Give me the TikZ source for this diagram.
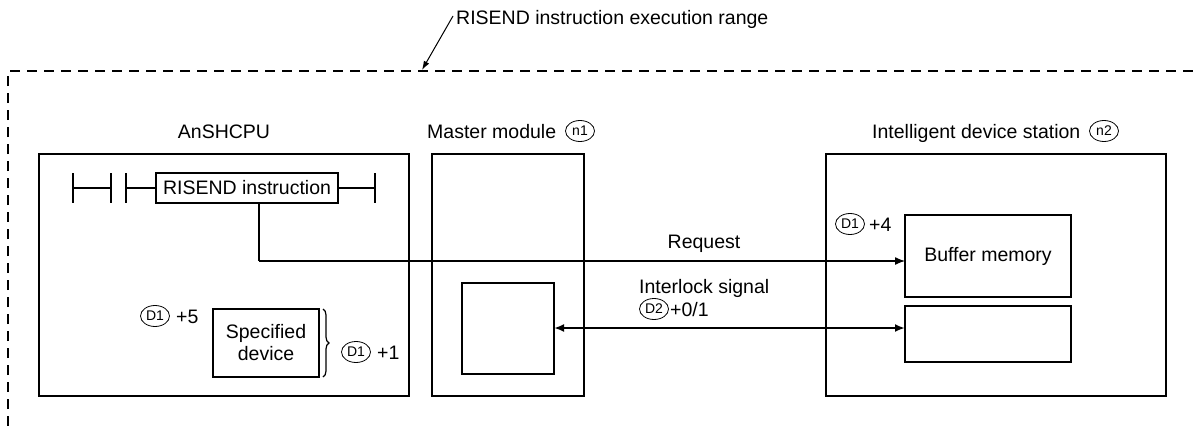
\documentclass[tikz,border=0pt]{standalone}
\usepackage{fontspec}
\setmainfont{Liberation Sans}
\usetikzlibrary{arrows.meta,shapes.geometric,decorations.pathreplacing,calc}
\begin{document}
\begin{tikzpicture}[x=1pt,y=-1pt,
  txt/.style={font=\fontsize{19.5}{22}\selectfont, inner sep=0pt},
  box/.style={draw, line width=1.3pt, inner sep=0pt, outer sep=0pt},
  circ/.style={ellipse, draw, line width=0.8pt, inner sep=0pt, minimum width=29pt, minimum height=21pt, font=\fontsize{14}{16}\selectfont},
  arr/.style={line width=1.3pt, -{Latex[length=10pt,width=8pt]}},
  darr/.style={line width=2pt, {Latex[length=10pt,width=8pt]}-{Latex[length=10pt,width=8pt]}},
  lad/.style={line width=1.5pt},
  dashline/.style={line width=2pt, dash pattern=on 10pt off 7pt}
]
\useasboundingbox (0,0) rectangle (1195,426);
% execution range frame
\draw[dashline] (8,426) -- (8,71) -- (1195,71);
\node[txt, anchor=base west] (range) at (456,24) {RISEND instruction execution range};
\coordinate (lt) at (453,16);
\coordinate (lh) at (422,70);
\draw[line width=1pt, -{Latex[length=9pt,width=6pt]}] (lt) -- (lh);

% main boxes
\node[box, minimum width=370pt, minimum height=242pt] (cpu) at (224,275) {};
\node[box, minimum width=152pt, minimum height=242pt] (master) at (508,275) {};
\node[box, minimum width=340pt, minimum height=242pt] (ids) at (996,275) {};

% titles
\node[txt, anchor=base] (cpulab) at (224,138) {AnSHCPU};
\node[txt, anchor=base west] (mlab) at (427,138) {Master module};
\node[circ] (n1) at (580,131) {n1};
\node[txt, anchor=base west] (ilab) at (872,138) {Intelligent device station};
\node[circ] (n2) at (1104,131) {n2};

% ladder
\node[box, txt, minimum width=182pt, minimum height=30pt] (inst) at (247,188) {RISEND instruction};
\coordinate (r1) at (73,188);
\coordinate (c1) at (111,188);
\coordinate (c2) at (126,188);
\coordinate (r2) at (375,188);
\draw[lad] ($(r1)+(0,-15)$) -- ($(r1)+(0,15)$);
\draw[lad] (r1) -- (c1);
\draw[lad] ($(c1)+(0,-15)$) -- ($(c1)+(0,15)$);
\draw[lad] ($(c2)+(0,-15)$) -- ($(c2)+(0,15)$);
\draw[lad] (c2) -- (inst.west);
\draw[lad] (inst.east) -- (r2);
\draw[lad] ($(r2)+(0,-15)$) -- ($(r2)+(0,15)$);

% specified device
\node[box, txt, align=center, minimum width=106pt, minimum height=68pt] (spec) at (266,343) {Specified\\device};
\draw[line width=1.2pt, decorate, decoration={brace, amplitude=6pt}] (323,309) -- (323,377);
\node[circ] (d1a) at (155,316) {D1};
\node[txt, anchor=base west] (p5) at (176,323) {+5};
\node[circ] (d1b) at (356,352) {D1};
\node[txt, anchor=base west] (p1) at (377,359) {+1};

% master inner
\node[box, minimum width=92pt, minimum height=91pt] (minner) at (508,328.5) {};

% intelligent station inner
\node[box, txt, minimum width=166pt, minimum height=82pt] (buf) at (988,256) {Buffer memory};
\node[box, minimum width=166pt, minimum height=56pt] (low) at (988,334) {};
\node[circ] (d1c) at (850,224) {D1};
\node[txt, anchor=base west] (p4) at (869,231) {+4};

% request
\coordinate (rq) at (259,261);
\draw[line width=1.3pt] (inst.south -| rq) -- (rq);
\draw[arr] (rq) -- (buf.west |- rq);
\node[txt, anchor=base] (reqlab) at (704,248) {Request};

% interlock
\coordinate (il) at (600,328);
\draw[darr] (minner.east |- il) -- (low.west |- il);
\node[txt, anchor=base west] (illab) at (639,293) {Interlock signal};
\node[circ] (d2) at (654,309) {D2};
\node[txt, anchor=base west] (p01) at (670,316) {+0/1};
\end{tikzpicture}
\end{document}
